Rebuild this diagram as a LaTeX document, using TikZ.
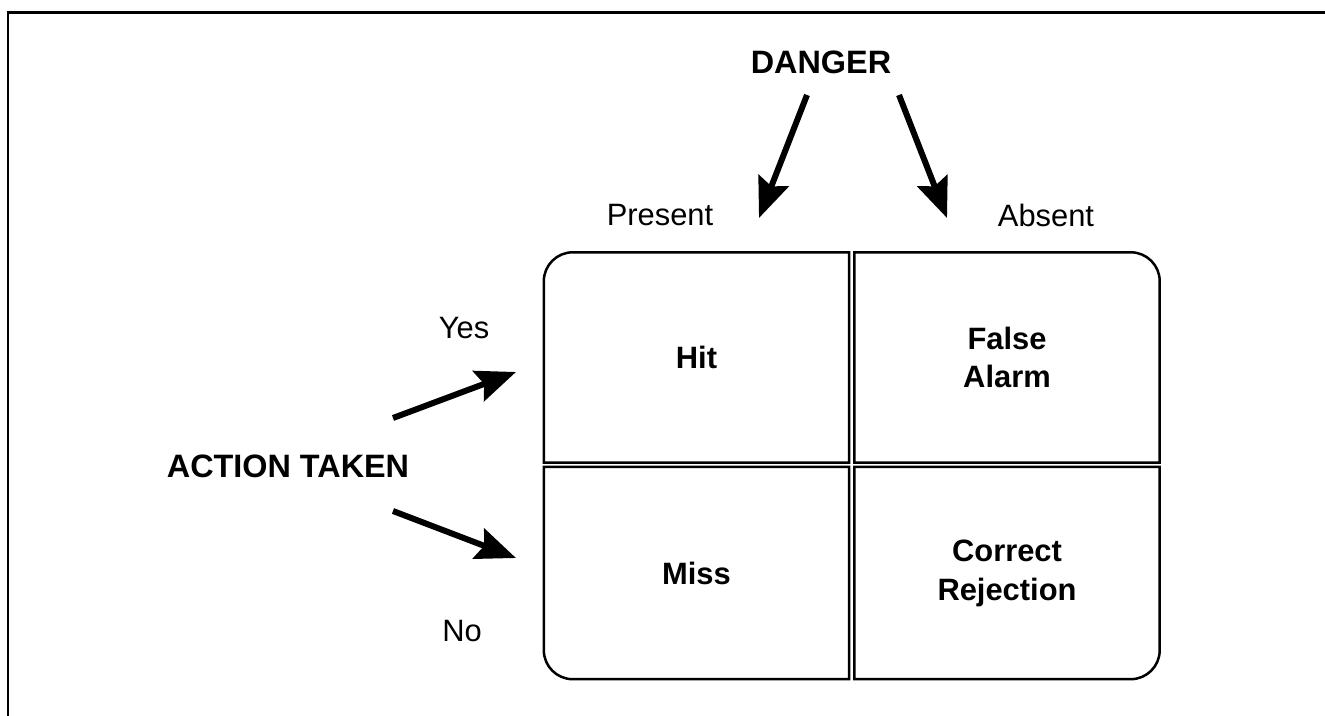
\documentclass[tikz,border=0pt]{standalone}
\usepackage{fontspec}
\setmainfont{Liberation Sans}
\usetikzlibrary{arrows.meta}
\tikzset{
  lbl/.style={font=\fontsize{31}{39}\selectfont, inner sep=0pt, align=center},
  blbl/.style={lbl, font=\fontsize{32.5}{39}\selectfont\bfseries},
  cell/.style={inner sep=0pt, minimum width=305bp, minimum height=210bp, font=\fontsize{31}{39}\selectfont\bfseries, align=center},
  cellline/.style={line width=2.5bp, black},
  frameline/.style={line width=2.5bp, black},
  bigarrow/.style={line width=6bp, -{Stealth[length=40bp,width=32bp,inset=6bp]}}
}
\begin{document}
\begin{tikzpicture}[x=1bp,y=1bp]
\useasboundingbox (0,0) rectangle (1325,715);
\fill[white] (0,0) rectangle (1325,715);
% frame
\draw[frameline] (8,-5) -- (8,702.5) -- (1330,702.5);

% cells
\node[cell] (hit) at (696.5,357.5) {Hit};
\node[cell] (fa) at (1007,357.5) {False\\Alarm};
\node[cell, minimum height=212bp] (miss) at (696.5,142) {Miss};
\node[cell, minimum height=212bp] (cr) at (1007,142) {Correct\\Rejection};

\def\rr{29}
\draw[cellline] (hit.north east) -- ([xshift=\rr bp]hit.north west)
  arc[start angle=90, end angle=180, radius=\rr] -- (hit.south west) -- (hit.south east) -- cycle;
\draw[cellline] (fa.north west) -- ([xshift=-\rr bp]fa.north east)
  arc[start angle=90, end angle=0, radius=\rr] -- (fa.south east) -- (fa.south west) -- cycle;
\draw[cellline] (miss.north west) -- ([yshift=\rr bp]miss.south west)
  arc[start angle=180, end angle=270, radius=\rr] -- (miss.south east) -- (miss.north east) -- cycle;
\draw[cellline] (cr.north west) -- (cr.north east) -- ([yshift=\rr bp]cr.south east)
  arc[start angle=0, end angle=-90, radius=\rr] -- (cr.south west) -- cycle;

% labels
\node[blbl] (danger) at (821,653) {DANGER};
\node[lbl] (present) at (660,500) {Present};
\node[lbl] (absent) at (1046,500) {Absent};
\node[lbl] (yes) at (464,387) {Yes};
\node[lbl] (no) at (462,84) {No};
\node[blbl] (action) at (288,249) {ACTION TAKEN};

% arrow endpoints
\coordinate (dls) at (807,620);
\coordinate (dle) at (759,497);
\coordinate (drs) at (899,620);
\coordinate (dre) at (947,497);
\coordinate (ys) at (393,297);
\coordinate (ye) at (516,343);
\coordinate (ns) at (393,204);
\coordinate (ne) at (516,157);

\draw[bigarrow] (dls) -- (dle);
\draw[bigarrow] (drs) -- (dre);
\draw[bigarrow] (ys) -- (ye);
\draw[bigarrow] (ns) -- (ne);
\end{tikzpicture}
\end{document}
